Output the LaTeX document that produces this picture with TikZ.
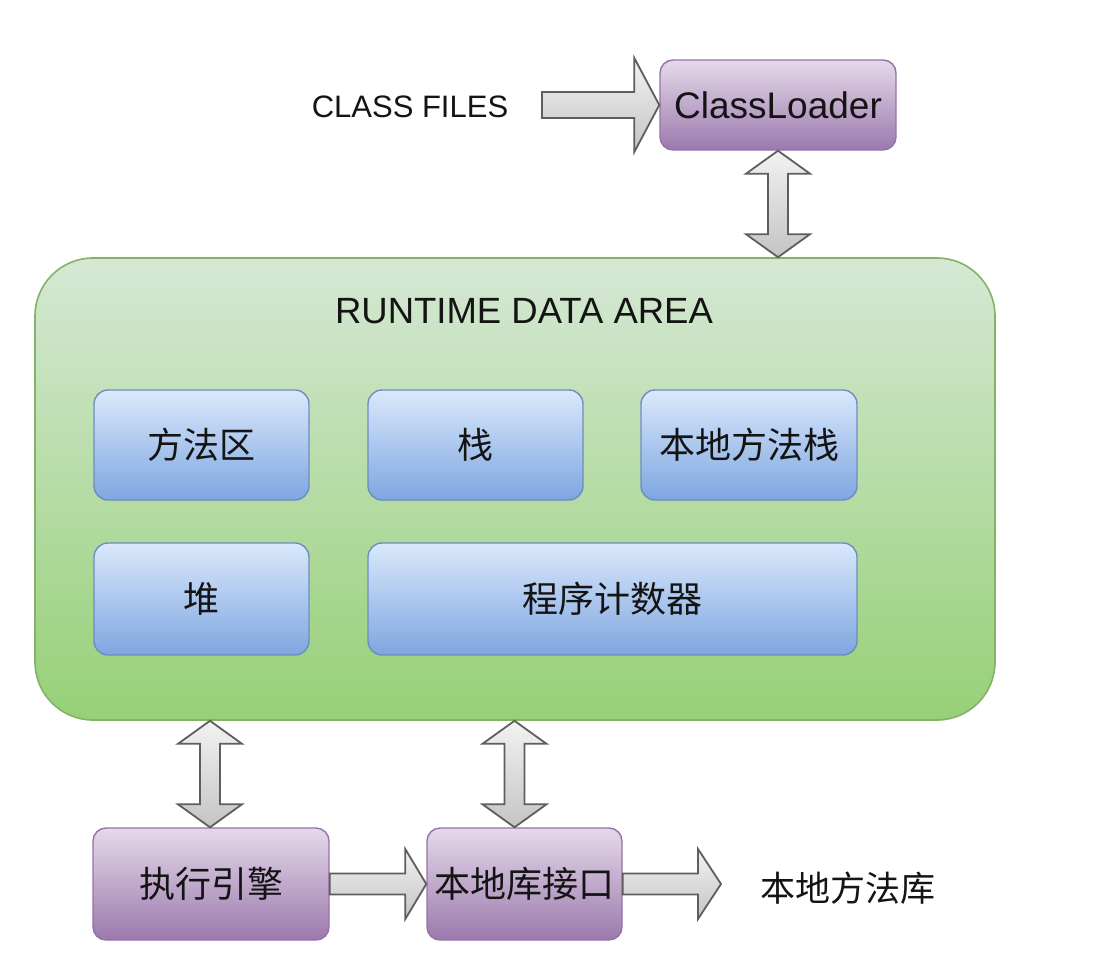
\documentclass[tikz,border=0pt]{standalone}
\usepackage{fontspec}
\setmainfont{Liberation Sans}
\newfontfamily\cjk{Noto Sans CJK SC}
\usetikzlibrary{calc}
\definecolor{pTop}{HTML}{E4D9EA}
\definecolor{pBot}{HTML}{9C79AD}
\definecolor{pStr}{HTML}{9673A6}
\definecolor{bTop}{HTML}{DAE8FC}
\definecolor{bBot}{HTML}{7EA6E0}
\definecolor{bStr}{HTML}{6C8EBF}
\definecolor{gTop}{HTML}{D5E8D4}
\definecolor{gBot}{HTML}{97D077}
\definecolor{gStr}{HTML}{82B366}
\definecolor{aTop}{HTML}{F2F2F2}
\definecolor{aBot}{HTML}{C4C4C4}
\definecolor{aStr}{HTML}{5E5E5E}
\definecolor{txt}{HTML}{141414}
\newcommand{\vdblarrow}[4]{%
  \draw[barrow] let \p1=($#1+(#4,0)$), \p2=#2, \p3=#3 in
  (\x1,\y2) -- (\x1+32pt,\y2-23pt) -- (\x1+10pt,\y2-23pt) -- (\x1+10pt,\y3+23pt)
  -- (\x1+32pt,\y3+23pt) -- (\x1,\y3) -- (\x1-32pt,\y3+23pt) -- (\x1-10pt,\y3+23pt)
  -- (\x1-10pt,\y2-23pt) -- (\x1-32pt,\y2-23pt) -- cycle;}
\newcommand{\hblkarrow}[5]{%
  \draw[barrow] let \p1=#1, \p2=#2 in
  (\x1,\y1+#3) -- (\x2-#5,\y1+#3) -- (\x2-#5,\y1+#4) -- (\x2,\y1)
  -- (\x2-#5,\y1-#4) -- (\x2-#5,\y1-#3) -- (\x1,\y1-#3) -- cycle;}
\tikzset{
  purplebox/.style={draw=pStr, line width=1.4pt, rounded corners=13pt, top color=pTop, bottom color=pBot,
    inner sep=0pt, text=txt, font=\cjk\fontsize{36}{40}\selectfont},
  bluebox/.style={draw=bStr, line width=1.4pt, rounded corners=14pt, top color=bTop, bottom color=bBot,
    inner sep=0pt, text=txt, font=\cjk\fontsize{36}{40}\selectfont},
  greenbox/.style={draw=gStr, line width=1.6pt, rounded corners=58pt, top color=gTop, bottom color=gBot, inner sep=0pt},
  barrow/.style={draw=aStr, line width=1.8pt, top color=aTop, bottom color=aBot, line join=miter},
  plain/.style={inner sep=0pt, text=txt}
}
\begin{document}
\begin{tikzpicture}[x=1pt,y=-1pt]
\useasboundingbox[fill=white] (0,0) rectangle (1098,964);
% Runtime data area
\node[greenbox, minimum width=960pt, minimum height=462pt] (rda) at (515,489) {};
\node[plain, font=\fontsize{36.5}{40}\selectfont] (title) at (524,311) {RUNTIME DATA AREA};
\node[bluebox, minimum width=215pt, minimum height=110pt] (b1) at (201.5,445) {方法区};
\node[bluebox, minimum width=215pt, minimum height=110pt] (b2) at (475.5,445) {栈};
\node[bluebox, minimum width=216pt, minimum height=110pt] (b3) at (749,445) {本地方法栈};
\node[bluebox, minimum width=215pt, minimum height=112pt] (b4) at (201.5,599) {堆};
\node[bluebox, minimum width=489pt, minimum height=112pt] (b5) at (612.5,599) {程序计数器};
% Top
\node[plain, font=\fontsize{31}{36}\selectfont] (cf) at (410,107) {CLASS FILES};
\node[purplebox, font=\fontsize{37}{42}\selectfont, minimum width=236pt, minimum height=90pt] (cl) at (778,105) {ClassLoader};
\coordinate (cfa) at (542,105);
\hblkarrow{(cfa)}{(cl.west)}{13pt}{47pt}{25pt}
\vdblarrow{(cl.south)}{(cl.south)}{(rda.north)}{0}
% Bottom
\node[purplebox, minimum width=236pt, minimum height=112pt] (ee) at (211,884) {执行引擎};
\node[purplebox, minimum width=195pt, minimum height=112pt] (ni) at (524.5,884) {本地库接口};
\node[plain, font=\cjk\fontsize{35}{40}\selectfont] (nl) at (848,888) {本地方法库};
\coordinate (nla) at (721,884);
\vdblarrow{(ee.north)}{(rda.south)}{(ee.north)}{-1}
\vdblarrow{(ni.north)}{(rda.south)}{(ni.north)}{-10}
\hblkarrow{(ee.east)}{(ni.west)}{10.5pt}{35pt}{21pt}
\hblkarrow{(ni.east)}{(nla)}{10.5pt}{35pt}{23pt}
\end{tikzpicture}
\end{document}
